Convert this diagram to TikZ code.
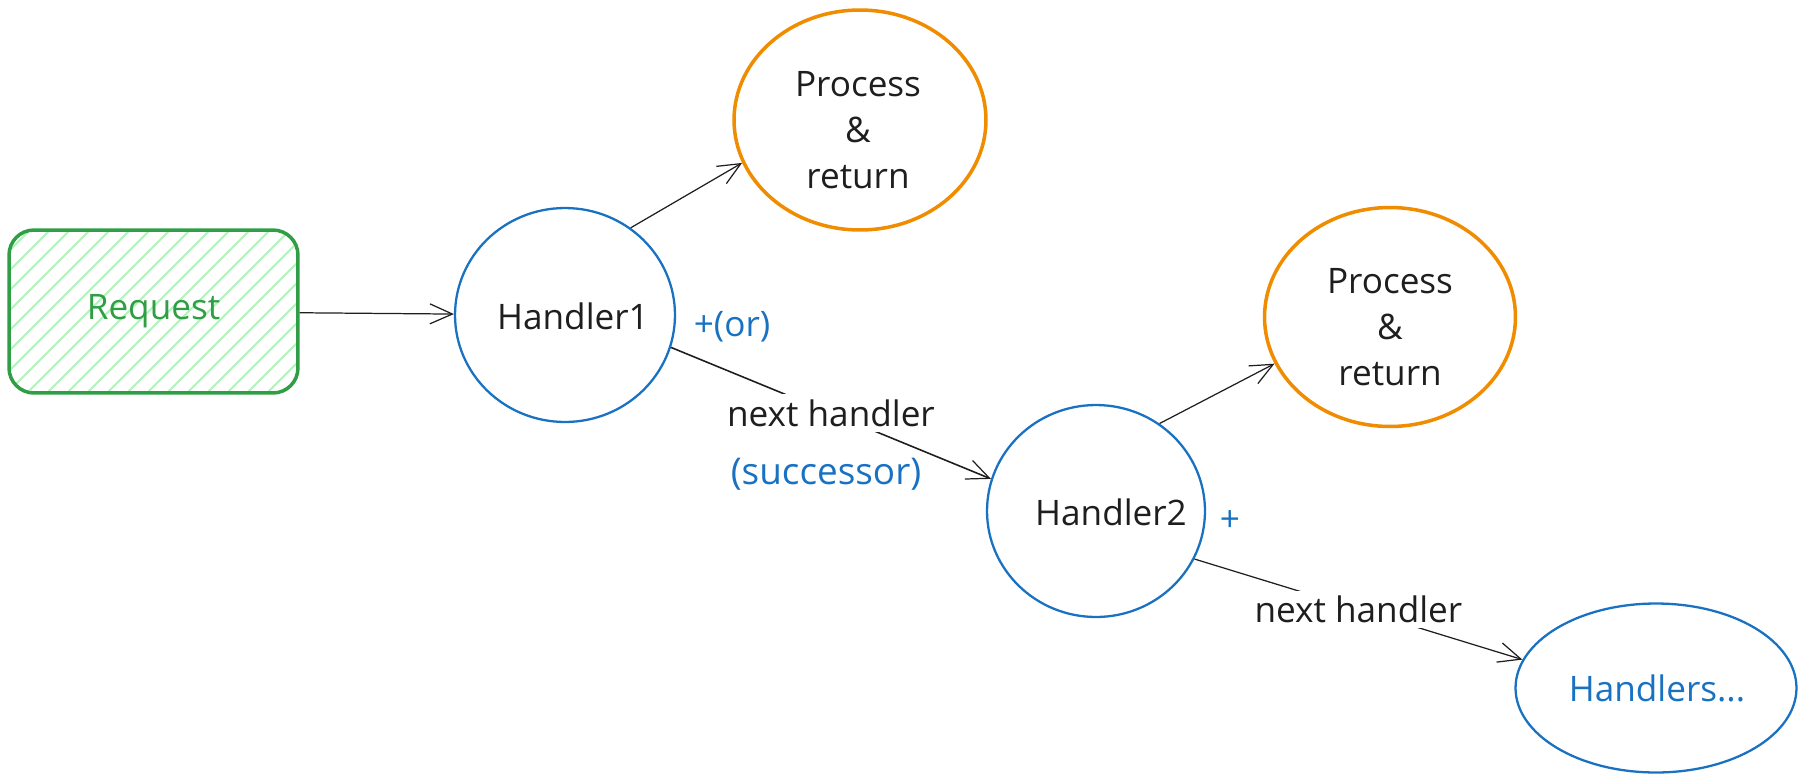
\documentclass[tikz,border=0pt]{standalone}
\usepackage{fontspec}
\setmainfont{Open Sans}
\usetikzlibrary{arrows.meta,shapes.geometric}
\definecolor{exblue}{HTML}{1971C2}
\definecolor{exorange}{HTML}{F08C00}
\definecolor{exgreen}{HTML}{2F9E44}
\definecolor{exhatch}{HTML}{B2F2BB}
\definecolor{exink}{HTML}{1E1E1E}
\begin{document}
\begin{tikzpicture}[x=0.02cm,y=-0.02cm,
  txt/.style={font=\fontsize{20}{26}\selectfont, text=exink, align=center},
  handler/.style={ellipse, draw=exblue, line width=1.3pt, inner sep=0pt},
  result/.style={ellipse, draw=exorange, line width=2pt, inner sep=0pt},
  conn/.style={draw=exink, line width=0.7pt, -{Straight Barb[length=0.45cm,width=0.4cm,line width=0.7pt]}},
  lbl/.style={txt, fill=white, inner sep=3pt},
  note/.style={font=\fontsize{20}{24}\selectfont, text=exblue}
]
\useasboundingbox (0,0) rectangle (1806,782);

% hatch of the request box
\begin{scope}
  \clip[rounded corners=0.45cm] (11,232) rectangle (296,391);
  \foreach \i in {-180,-160,...,300}
    \draw[exhatch, line width=1.1pt] (\i,400) -- (\i+170,230);
\end{scope}

\node[draw=exgreen, line width=2pt, rounded corners=0.5cm, minimum width=5.78cm, minimum height=3.26cm,
      font=\fontsize{20}{24}\selectfont, text=exgreen] (req) at (153.5,311.5) {Request};

\node[handler, minimum width=4.4cm, minimum height=4.28cm] (h1) at (565,315) {};
\node[txt] (h1t) at (573,316) {Handler1};
\node[result, minimum width=5.04cm, minimum height=4.4cm] (p1) at (860,120) {};
\node[txt] (p1t) at (858,130) {Process\\\&\\return};
\node[handler, minimum width=4.36cm, minimum height=4.24cm] (h2) at (1096,511) {};
\node[txt] (h2t) at (1111,512) {Handler2};
\node[result, minimum width=5.02cm, minimum height=4.38cm] (p2) at (1390,317) {};
\node[txt] (p2t) at (1390,327) {Process\\\&\\return};
\node[handler, minimum width=5.62cm, minimum height=3.38cm] (hs) at (1656,688) {};
\node[font=\fontsize{20}{24}\selectfont, text=exblue] (hst) at (1657,688) {Handlers...};

\node[note] (or) at (732,327) {+(or)};
\node[note] (plus) at (1230,521) {+};
\node[note, font=\fontsize{21}{24}\selectfont] (succ) at (826,474) {(successor)};

\draw[conn] (req) -- (h1);
\draw[conn] (h1.53) -- (p1.200);
\draw[conn] (h2.54) -- (p2.202);
\draw[conn, line width=0.9pt] (h1.-17) -- node[lbl, midway] (nh1) {next handler} (h2.163);
\draw[conn] (h2.-26) -- node[lbl, midway] (nh2) {next handler} (hs.168);
\end{tikzpicture}
\end{document}
